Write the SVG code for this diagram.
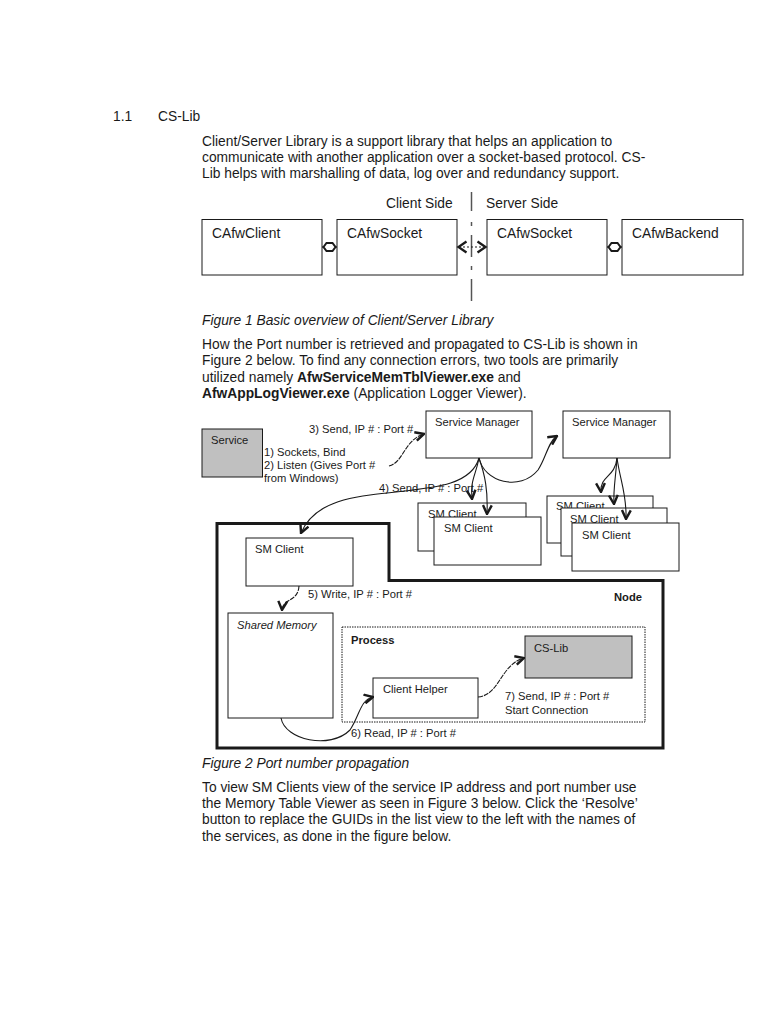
<svg xmlns="http://www.w3.org/2000/svg" width="768" height="1024" viewBox="0 0 768 1024">
<style>
text{font-family:"Liberation Sans",Arial,sans-serif;fill:#1a1a1a}
.b{font-size:13.8px}
.s{font-size:11.2px}
.it{font-style:italic}
.bd{font-weight:bold}
.box{fill:#fff;stroke:#1a1a1a;stroke-width:1}
.gray{fill:#c0c0c0;stroke:#1a1a1a;stroke-width:1}
.c{fill:none;stroke:#1a1a1a;stroke-width:1.1}
.dsh{stroke-dasharray:5 1}
</style>
<defs>
<marker id="ah" viewBox="0 0 10 10" refX="9" refY="5" markerWidth="11" markerHeight="11" markerUnits="userSpaceOnUse" orient="auto">
<path d="M1,1 L9,5 L1,9" fill="none" stroke="#1a1a1a" stroke-width="2.2"/>
</marker>
</defs>
<rect width="768" height="1024" fill="#fff"/>

<g id="heading">
<text class="b" x="113" y="121">1.1</text>
<text class="b" x="158" y="121">CS-Lib</text>
</g>
<g id="para1">
<text class="b" x="202" y="146">Client/Server Library is a support library that helps an application to</text>
<text class="b" x="202" y="162">communicate with another application over a socket-based protocol. CS-</text>
<text class="b" x="202" y="178">Lib helps with marshalling of data, log over and redundancy support.</text>
</g>

<!-- Figure 1 -->
<g id="fig1-labels">
<text class="b" x="386" y="208">Client Side</text>
<text class="b" x="486" y="208">Server Side</text>
</g>
<g id="divider" stroke="#555" stroke-width="1.5" fill="none">
<line x1="471.5" y1="192" x2="471.5" y2="211"/>
<line x1="471.5" y1="222" x2="471.5" y2="226"/>
<line x1="471.5" y1="235" x2="471.5" y2="257"/>
<line x1="471.5" y1="266" x2="471.5" y2="270"/>
<line x1="471.5" y1="279" x2="471.5" y2="301"/>
</g>
<g id="CAfwClient"><rect class="box" x="202" y="219.5" width="120" height="55.5"/><text class="b" x="212" y="238">CAfwClient</text></g>
<g id="CAfwSocketClient"><rect class="box" x="337" y="219.5" width="120" height="55.5"/><text class="b" x="347" y="238">CAfwSocket</text></g>
<g id="CAfwSocketServer"><rect class="box" x="487" y="219.5" width="120" height="55.5"/><text class="b" x="497" y="238">CAfwSocket</text></g>
<g id="CAfwBackend"><rect class="box" x="622" y="219.5" width="121" height="55.5"/><text class="b" x="632" y="238">CAfwBackend</text></g>

<g id="fig1-connectors" fill="none" stroke="#1a1a1a">
<line x1="322" y1="247" x2="337" y2="247" stroke-width="1.2"/>
<polygon points="323.5,247 326.5,243 332.5,243 335.5,247 332.5,251 326.5,251" fill="#fff" stroke-width="2"/>
<line x1="607" y1="247" x2="622" y2="247" stroke-width="1.2"/>
<polygon points="608.5,247 611.5,243 617.5,243 620.5,247 617.5,251 611.5,251" fill="#fff" stroke-width="2"/>
<line x1="459" y1="247" x2="485" y2="247" stroke-width="1" stroke-dasharray="2 2"/>
<path d="M466.5,241.5 L458.5,247 L466.5,252.5" stroke-width="2.3"/>
<path d="M477.5,241.5 L485.5,247 L477.5,252.5" stroke-width="2.3"/>
</g>

<text class="b it" x="202" y="325">Figure 1 Basic overview of Client/Server Library</text>

<g id="para2">
<text class="b" x="202" y="349">How the Port number is retrieved and propagated to CS-Lib is shown in</text>
<text class="b" x="202" y="365">Figure 2 below. To find any connection errors, two tools are primarily</text>
<text class="b" x="202" y="382">utilized namely <tspan class="bd">AfwServiceMemTblViewer.exe</tspan> and</text>
<text class="b" x="202" y="398"><tspan class="bd">AfwAppLogViewer.exe</tspan> (Application Logger Viewer).</text>
</g>

<!-- Figure 2 -->
<g id="node-boundary">
<path d="M217,523.5 L389,523.5 L389,580.5 L663,580.5 L663,748 L217,748 Z" fill="none" stroke="#1a1a1a" stroke-width="3"/>
<text class="s bd" x="614" y="601">Node</text>
</g>

<g id="Service"><rect class="gray" x="202" y="429" width="60.5" height="48"/><text class="s" x="211" y="444">Service</text></g>
<g id="service-notes">
<text class="s" x="264" y="456">1) Sockets, Bind</text>
<text class="s" x="264" y="469">2) Listen (Gives Port #</text>
<text class="s" x="264" y="482">from Windows)</text>
</g>

<g id="ServiceManager1"><rect class="box" x="426" y="411" width="106" height="47"/><text class="s" x="435" y="426">Service Manager</text></g>
<g id="ServiceManager2"><rect class="box" x="563" y="411" width="107" height="47"/><text class="s" x="572" y="426">Service Manager</text></g>

<g id="SMClientStack1">
<rect class="box" x="418" y="503" width="108" height="48"/><text class="s" x="428" y="518">SM Client</text>
<rect class="box" x="434" y="517" width="107" height="48"/><text class="s" x="444" y="532">SM Client</text>
</g>
<g id="SMClientStack2">
<rect class="box" x="547" y="496" width="106" height="47"/><text class="s" x="556" y="510">SM Client</text>
<rect class="box" x="561" y="508" width="106" height="48"/><text class="s" x="570" y="523">SM Client</text>
<rect class="box" x="572" y="523" width="107" height="48"/><text class="s" x="582" y="539">SM Client</text>
</g>

<g id="SMClientNode"><rect class="box" x="246" y="538" width="107" height="48"/><text class="s" x="255" y="553">SM Client</text></g>
<g id="SharedMemory"><rect class="box" x="228" y="613" width="105" height="105"/><text class="s it" x="237" y="629">Shared Memory</text></g>
<g id="Process">
<rect x="342" y="627" width="303" height="95" fill="none" stroke="#1a1a1a" stroke-width="1" stroke-dasharray="1.5 1"/>
<text class="s bd" x="351" y="644">Process</text>
</g>
<g id="CSLib"><rect class="gray" x="525" y="636" width="107" height="42"/><text class="s" x="534" y="652">CS-Lib</text></g>
<g id="ClientHelper"><rect class="box" x="373" y="678" width="105" height="40"/><text class="s" x="383" y="693">Client Helper</text></g>

<g id="connectors">
<path class="c dsh" d="M389,466 C404,462 404,440 424,434" marker-end="url(#ah)"/>
<path class="c" d="M479,458 C484,482 520,492 538,470 C546,458 548,442 557,436" marker-end="url(#ah)"/>
<path class="c" d="M479,458 C470,490 420,488 370,495 C330,500 310,512 301,533" marker-end="url(#ah)"/>
<path class="c" d="M479,458 C476,475 470,480 472,499" marker-end="url(#ah)"/>
<path class="c" d="M479,458 C485,475 488,490 487,514" marker-end="url(#ah)"/>
<path class="c" d="M617,458 C615,478 600,475 601,492" marker-end="url(#ah)"/>
<path class="c" d="M617,458 C616,475 613,490 614,504" marker-end="url(#ah)"/>
<path class="c" d="M617,458 C620,480 627,495 626,519" marker-end="url(#ah)"/>
<path class="c dsh" d="M299,586 C298,602 283,598 282,610" marker-end="url(#ah)"/>
<path class="c" d="M281,718 C285,740 330,750 350,730 C360,715 360,700 373,697" marker-end="url(#ah)"/>
<path class="c dsh" d="M478,697 C500,695 500,665 524,658" marker-end="url(#ah)"/>
</g>
<g id="connector-labels">
<text class="s" x="309" y="433">3) Send, IP # : Port #</text>
<text class="s" x="379" y="492">4) Send, IP # : Port #</text>
<text class="s" x="308" y="598">5) Write, IP # : Port #</text>
<text class="s" x="351" y="737">6) Read, IP # : Port #</text>
<text class="s" x="505" y="700">7) Send, IP # : Port #</text>
<text class="s" x="505" y="714">Start Connection</text>
</g>

<text class="b it" x="202" y="768">Figure 2 Port number propagation</text>

<g id="para3">
<text class="b" x="202" y="792">To view SM Clients view of the service IP address and port number use</text>
<text class="b" x="202" y="808">the Memory Table Viewer as seen in Figure 3 below. Click the ‘Resolve’</text>
<text class="b" x="202" y="824">button to replace the GUIDs in the list view to the left with the names of</text>
<text class="b" x="202" y="841">the services, as done in the figure below.</text>
</g>
</svg>
